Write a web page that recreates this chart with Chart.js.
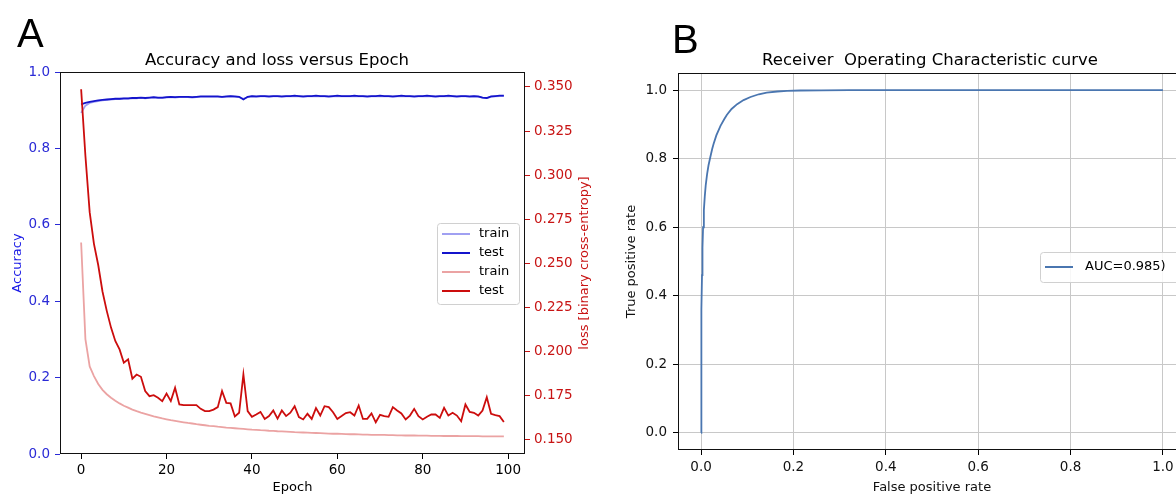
<!DOCTYPE html>
<html>
<head>
<meta charset="utf-8">
<script src="https://cdn.jsdelivr.net/npm/chart.js@4.4.0/dist/chart.umd.min.js"></script>
<style>
  html, body { margin: 0; padding: 0; background: #fff; overflow: hidden; width: 1176px; height: 495px; }
  #chartA { position: absolute; left: 0; top: 0; }
  #chartB { position: absolute; left: 600px; top: 0; }
</style>
</head>
<body>
<canvas id="chartA" width="600" height="495"></canvas>
<canvas id="chartB" width="600" height="495"></canvas>
<script>
// ------------------------- DATA -------------------------------------

// panel A: epochs and the four curves
var epochs = [0,1,2,3,4,5,6,7,8,9,10,11,12,13,14,15,16,17,18,19,20,21,22,23,24,25,26,27,28,29,
  30,31,32,33,34,35,36,37,38,39,40,41,42,43,44,45,46,47,48,49,50,51,52,53,54,55,56,57,58,59,
  60,61,62,63,64,65,66,67,68,69,70,71,72,73,74,75,76,77,78,79,80,81,82,83,84,85,86,87,88,89,
  90,91,92,93,94,95,96,97,98,99];

var trainAcc = [0.893,0.912,0.919,0.922,0.924,0.926,0.927,0.928,0.929,0.929,0.930,0.930,0.931,0.931,0.932,0.931,0.932,0.933,0.932,0.932,
  0.933,0.934,0.933,0.934,0.934,0.934,0.933,0.934,0.935,0.935,0.935,0.935,0.935,0.934,0.935,0.936,0.935,0.934,0.930,0.934,
  0.936,0.935,0.936,0.936,0.935,0.936,0.936,0.935,0.936,0.936,0.937,0.936,0.935,0.936,0.936,0.937,0.936,0.936,0.935,0.936,
  0.937,0.936,0.936,0.936,0.937,0.936,0.936,0.935,0.936,0.936,0.937,0.936,0.936,0.935,0.936,0.937,0.936,0.936,0.935,0.936,
  0.936,0.937,0.936,0.935,0.936,0.936,0.937,0.936,0.935,0.936,0.936,0.935,0.936,0.935,0.933,0.932,0.935,0.936,0.937,0.937];

var testAcc = [0.915,0.919,0.922,0.924,0.926,0.927,0.928,0.929,0.930,0.930,0.931,0.931,0.932,0.932,0.933,0.932,0.933,0.934,0.933,0.933,
  0.934,0.935,0.934,0.935,0.935,0.935,0.934,0.935,0.936,0.936,0.936,0.936,0.936,0.935,0.936,0.937,0.936,0.935,0.928,0.935,
  0.937,0.936,0.937,0.937,0.936,0.937,0.937,0.936,0.937,0.937,0.938,0.937,0.936,0.937,0.937,0.938,0.937,0.937,0.936,0.937,
  0.938,0.937,0.937,0.937,0.938,0.937,0.937,0.936,0.937,0.937,0.938,0.937,0.937,0.936,0.937,0.938,0.937,0.937,0.936,0.937,
  0.937,0.938,0.937,0.936,0.937,0.937,0.938,0.937,0.936,0.937,0.937,0.936,0.937,0.936,0.933,0.932,0.936,0.937,0.938,0.938];

var trainLoss = [0.2618,0.2070,0.1915,0.1860,0.1815,0.1782,0.1757,0.1737,0.1720,0.1705,0.1692,0.1681,0.1670,0.1661,0.1653,0.1646,0.1639,0.1632,0.1626,0.1620,
  0.1615,0.1610,0.1606,0.1602,0.1598,0.1594,0.1591,0.1587,0.1584,0.1581,0.1578,0.1576,0.1573,0.1571,0.1568,0.1566,0.1564,0.1562,0.1560,0.1558,
  0.1556,0.1555,0.1553,0.1552,0.1550,0.1549,0.1547,0.1546,0.1545,0.1544,0.1542,0.1541,0.1540,0.1539,0.1538,0.1537,0.1536,0.1535,0.1534,0.1533,
  0.1533,0.1532,0.1531,0.1530,0.1530,0.1529,0.1528,0.1528,0.1527,0.1527,0.1526,0.1526,0.1525,0.1525,0.1524,0.1524,0.1523,0.1523,0.1523,0.1522,
  0.1522,0.1522,0.1521,0.1521,0.1521,0.1520,0.1520,0.1520,0.1520,0.1519,0.1519,0.1519,0.1519,0.1519,0.1518,0.1518,0.1518,0.1518,0.1518,0.1518];

var testLoss = [0.3487,0.3110,0.2790,0.2610,0.2490,0.2340,0.2230,0.2135,0.2059,0.2011,0.1936,0.1955,0.1845,0.1869,0.1856,0.1775,0.1746,0.1752,0.1737,0.1718,
  0.1761,0.1718,0.1794,0.1699,0.1695,0.1695,0.1695,0.1695,0.1674,0.1661,0.1661,0.1670,0.1684,0.1775,0.1708,0.1705,0.1631,0.1652,0.1869,0.1661,
  0.1629,0.1642,0.1657,0.1617,0.1633,0.1665,0.1619,0.1665,0.1633,0.1652,0.1689,0.1627,0.1614,0.1646,0.1617,0.1678,0.1636,0.1689,0.1684,0.1655,
  0.1617,0.1633,0.1650,0.1655,0.1636,0.1693,0.1617,0.1617,0.1648,0.1598,0.1640,0.1633,0.1629,0.1684,0.1665,0.1648,0.1614,0.1636,0.1674,0.1633,
  0.1614,0.1629,0.1642,0.1642,0.1623,0.1680,0.1636,0.1652,0.1636,0.1604,0.1699,0.1657,0.1652,0.1636,0.1665,0.1740,0.1646,0.1638,0.1633,0.1600];

var epochTicks = [0, 20, 40, 60, 80, 100];
var accTicks = [0, 0.2, 0.4, 0.6, 0.8, 1.0];
var lossTicks = [0.150, 0.175, 0.200, 0.225, 0.250, 0.275, 0.300, 0.325, 0.350];

// panel B: ROC curve
var fpr = [0, 0.0003, 0.0006, 0.001, 0.002, 0.003, 0.0043, 0.006, 0.008, 0.010, 0.013, 0.016, 0.020, 0.024, 0.027, 0.033, 0.042,
  0.050, 0.056, 0.066, 0.078, 0.092, 0.107, 0.125, 0.142, 0.165, 0.186, 0.215, 0.26, 0.32, 0.40, 0.55, 0.70, 0.85, 1.0];
var tpr = [0, 0.10, 0.22, 0.36, 0.46, 0.54, 0.60, 0.65, 0.69, 0.722, 0.755, 0.78, 0.805, 0.828, 0.843, 0.868, 0.896,
  0.915, 0.928, 0.945, 0.959, 0.971, 0.980, 0.988, 0.993, 0.996, 0.998, 0.999, 0.9995, 0.9998, 1.0, 1.0, 1.0, 1.0, 1.0];
var rateTicks = [0, 0.2, 0.4, 0.6, 0.8, 1.0];

// ------------------------- HELPERS -------------------------------------

Chart.defaults.font.family = "'DejaVu Sans', sans-serif";
Chart.defaults.color = '#000';

// pairs x and y arrays into points
function toPoints(xs, ys) {
  return xs.map(function(x, i) { return { x: x, y: ys[i] }; });
}

// fixes ticks to a given list of values
function fixedTicks(values) {
  return function(axis) { axis.ticks = values.map(function(v) { return { value: v }; }); };
}

// draws panel letter, title, frame, extra axis label and legend
var panelDecor = {
  id: 'panelDecor',
  afterDraw: function(chart, args, opts) {
    var ctx = chart.ctx, area = chart.chartArea;
    ctx.save();
    ctx.strokeStyle = '#111';
    ctx.lineWidth = 1;
    ctx.strokeRect(area.left + 0.5, area.top + 0.5, area.right - area.left - 1, area.bottom - area.top - 1);

    ctx.fillStyle = '#000';
    ctx.textAlign = 'left';
    ctx.textBaseline = 'alphabetic';
    ctx.font = '40px "Liberation Sans", Arial, sans-serif';
    ctx.fillText(opts.letter, opts.letterX, opts.letterY);

    ctx.textAlign = 'center';
    ctx.font = '16.5px "DejaVu Sans", sans-serif';
    ctx.fillText(opts.title, opts.titleX, opts.titleY);

    if (opts.rightLabel) {
      ctx.save();
      ctx.translate(opts.rightLabelX, (area.top + area.bottom) / 2);
      ctx.rotate(-Math.PI / 2);
      ctx.fillStyle = opts.rightLabelColor;
      ctx.font = '13px "DejaVu Sans", sans-serif';
      ctx.textBaseline = 'middle';
      ctx.fillText(opts.rightLabel, 0, 0);
      ctx.restore();
    }

    // legend box
    var lg = opts.legend;
    ctx.fillStyle = 'rgba(255,255,255,0.85)';
    ctx.strokeStyle = '#d0d0d0';
    ctx.beginPath();
    ctx.roundRect(lg.x + 0.5, lg.y + 0.5, lg.w, lg.h, 3);
    ctx.fill();
    ctx.stroke();
    ctx.font = '13px "DejaVu Sans", sans-serif';
    ctx.textAlign = 'left';
    ctx.textBaseline = 'middle';
    chart.data.datasets.forEach(function(ds, i) {
      var y = lg.firstY + i * lg.step;
      ctx.strokeStyle = ds.borderColor;
      ctx.lineWidth = 2;
      ctx.beginPath();
      ctx.moveTo(lg.lineX, y);
      ctx.lineTo(lg.lineX + 28, y);
      ctx.stroke();
      ctx.fillStyle = '#000';
      ctx.fillText(ds.label, lg.textX, y);
    });
    ctx.restore();
  }
};

// ------------------------- CHART A -------------------------------------

var blueTick = '#2a2ad6';
var redTick = '#c81414';

new Chart(document.getElementById('chartA'), {
  type: 'line',
  data: {
    datasets: [
      { label: 'train', data: toPoints(epochs, trainAcc), yAxisID: 'y', borderColor: '#a0a0f2', borderWidth: 1.8, pointRadius: 0, order: 3 },
      { label: 'test', data: toPoints(epochs, testAcc), yAxisID: 'y', borderColor: '#1414cc', borderWidth: 1.8, pointRadius: 0, order: 2 },
      { label: 'train', data: toPoints(epochs, trainLoss), yAxisID: 'y1', borderColor: '#eba3a3', borderWidth: 1.8, pointRadius: 0, order: 1 },
      { label: 'test', data: toPoints(epochs, testLoss), yAxisID: 'y1', borderColor: '#cc0d0d', borderWidth: 1.8, pointRadius: 0, order: 0 }
    ]
  },
  options: {
    responsive: false,
    animation: false,
    layout: { padding: { top: 72, left: 0, right: 0, bottom: 0 } },
    plugins: {
      legend: { display: false },
      tooltip: { enabled: false },
      panelDecor: {
        letter: 'A', letterX: 17, letterY: 47,
        title: 'Accuracy and loss versus Epoch', titleX: 277, titleY: 65,
        rightLabel: 'loss [binary cross-entropy]', rightLabelX: 585, rightLabelColor: redTick,
        legend: { x: 437, y: 223, w: 82, h: 81, firstY: 234, step: 19, lineX: 442, textX: 479 }
      }
    },
    scales: {
      x: {
        type: 'linear', min: -4.95, max: 103.95,
        afterBuildTicks: fixedTicks(epochTicks),
        afterFit: function(s) { s.height = 41; },
        grid: { drawOnChartArea: false, tickLength: 5, tickColor: '#000' },
        border: { display: false },
        ticks: { color: '#000', padding: 3, font: { size: 13.5 }, maxRotation: 0, autoSkip: false },
        title: { display: true, text: 'Epoch', color: '#000', font: { size: 13 }, padding: { top: 0, bottom: 0 } }
      },
      y: {
        position: 'left', min: 0, max: 1,
        afterBuildTicks: fixedTicks(accTicks),
        afterFit: function(s) { s.width = 60; },
        grid: { drawOnChartArea: false, tickLength: 5, tickColor: blueTick },
        border: { display: false },
        ticks: { color: blueTick, padding: 5, font: { size: 13.5 }, callback: function(v) { return v.toFixed(1); } },
        title: { display: true, text: 'Accuracy', color: '#1a1ae6', font: { size: 13 }, padding: { top: 10, bottom: 0 } }
      },
      y1: {
        position: 'right', min: 0.1418, max: 0.3585,
        afterBuildTicks: fixedTicks(lossTicks),
        afterFit: function(s) { s.width = 75; },
        grid: { drawOnChartArea: false, tickLength: 5, tickColor: redTick },
        border: { display: false },
        ticks: { color: redTick, padding: 4, font: { size: 13.5 }, callback: function(v) { return v.toFixed(3); } }
      }
    }
  },
  plugins: [panelDecor]
});

// ------------------------- CHART B -------------------------------------

new Chart(document.getElementById('chartB'), {
  type: 'line',
  data: {
    datasets: [
      { label: 'AUC=0.985)', data: toPoints(fpr, tpr), borderColor: '#4a76b0', borderWidth: 1.8, pointRadius: 0 }
    ]
  },
  options: {
    responsive: false,
    animation: false,
    layout: { padding: { top: 73, left: 0, right: 14, bottom: 0 } },
    plugins: {
      legend: { display: false },
      tooltip: { enabled: false },
      panelDecor: {
        letter: 'B', letterX: 72, letterY: 53,
        title: 'Receiver  Operating Characteristic curve', titleX: 330, titleY: 65,
        legend: { x: 440, y: 252, w: 160, h: 30, firstY: 267, step: 19, lineX: 445, textX: 485 }
      }
    },
    scales: {
      x: {
        type: 'linear', min: -0.05, max: 1.05,
        afterBuildTicks: fixedTicks(rateTicks),
        afterFit: function(s) { s.height = 45; },
        grid: { color: '#c8c8c8', tickLength: 5, tickColor: '#000' },
        border: { display: false },
        ticks: { color: '#111', padding: 4, font: { size: 13.5 }, maxRotation: 0, autoSkip: false, callback: function(v) { return v.toFixed(1); } },
        title: { display: true, text: 'False positive rate', color: '#111', font: { size: 13 }, padding: { top: 0, bottom: 0 } }
      },
      y: {
        position: 'left', min: -0.05, max: 1.05,
        afterBuildTicks: fixedTicks(rateTicks),
        afterFit: function(s) { s.width = 78; },
        grid: { color: '#c8c8c8', tickLength: 5, tickColor: '#000' },
        border: { display: false },
        ticks: { color: '#111', padding: 6, font: { size: 13.5 }, callback: function(v) { return v.toFixed(1); } },
        title: { display: true, text: 'True positive rate', color: '#111', font: { size: 13 }, padding: { top: 24, bottom: 0 } }
      }
    }
  },
  plugins: [panelDecor]
});
</script>
</body>
</html>
